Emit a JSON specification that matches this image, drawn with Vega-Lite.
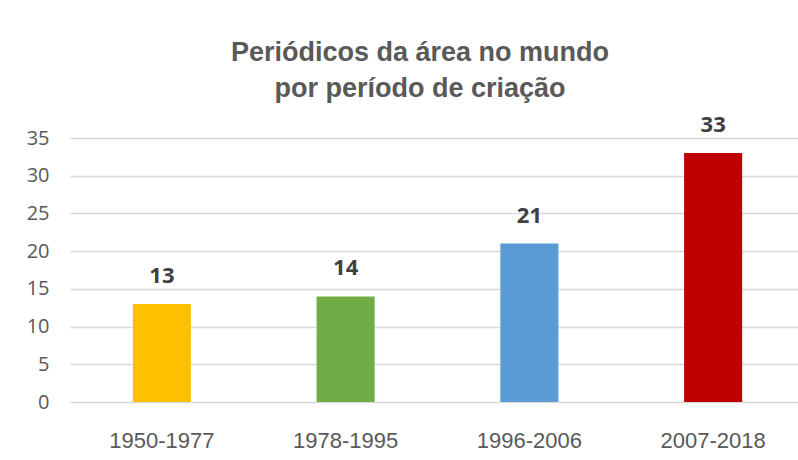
{
  "$schema": "https://vega.github.io/schema/vega-lite/v6.json",
  "width": 728,
  "height": 264,
  "autosize": "none",
  "padding": {"left": 70, "top": 138, "right": 0, "bottom": 58},
  "background": "white",
  "title": {
    "text": ["Periódicos da área no mundo", "por período de criação"],
    "font": "Liberation Sans",
    "fontSize": 27,
    "fontWeight": "bold",
    "color": "#595959",
    "anchor": "middle",
    "frame": "group",
    "dx": -14,
    "offset": 11,
    "lineHeight": 36
  },
  "config": {"view": {"stroke": null}},
  "data": {
    "values": [
      {"periodo": "1950-1977", "n": 13},
      {"periodo": "1978-1995", "n": 14},
      {"periodo": "1996-2006", "n": 21},
      {"periodo": "2007-2018", "n": 33}
    ]
  },
  "encoding": {
    "x": {
      "field": "periodo",
      "type": "nominal",
      "sort": null,
      "scale": {"range": [0, 735], "paddingInner": 0.684, "paddingOuter": 0.342},
      "axis": {
        "title": null,
        "labelAngle": 0,
        "labelFont": "Liberation Sans",
        "labelFontSize": 22,
        "labelColor": "#595959",
        "labelPadding": 28,
        "ticks": false,
        "domain": false,
        "grid": false
      }
    },
    "y": {
      "field": "n",
      "type": "quantitative",
      "scale": {"domain": [0, 35], "nice": false},
      "axis": {
        "title": null,
        "values": [0, 5, 10, 15, 20, 25, 30, 35],
        "labelFont": "Open Sans",
        "labelFontSize": 20,
        "labelColor": "#595959",
        "labelPadding": 21,
        "ticks": false,
        "domain": false,
        "gridColor": "#d9d9d9",
        "gridWidth": 1.5
      }
    }
  },
  "layer": [
    {
      "mark": {"type": "bar"},
      "encoding": {
        "color": {
          "field": "periodo",
          "type": "nominal",
          "scale": {
            "domain": ["1950-1977", "1978-1995", "1996-2006", "2007-2018"],
            "range": ["#FFC000", "#70AD47", "#5B9BD5", "#C00000"]
          },
          "legend": null
        }
      }
    },
    {
      "mark": {
        "type": "text",
        "font": "Open Sans",
        "fontSize": 22,
        "fontWeight": "bold",
        "color": "#404040",
        "baseline": "alphabetic",
        "dy": -21
      },
      "encoding": {"text": {"field": "n", "type": "quantitative"}}
    }
  ]
}
